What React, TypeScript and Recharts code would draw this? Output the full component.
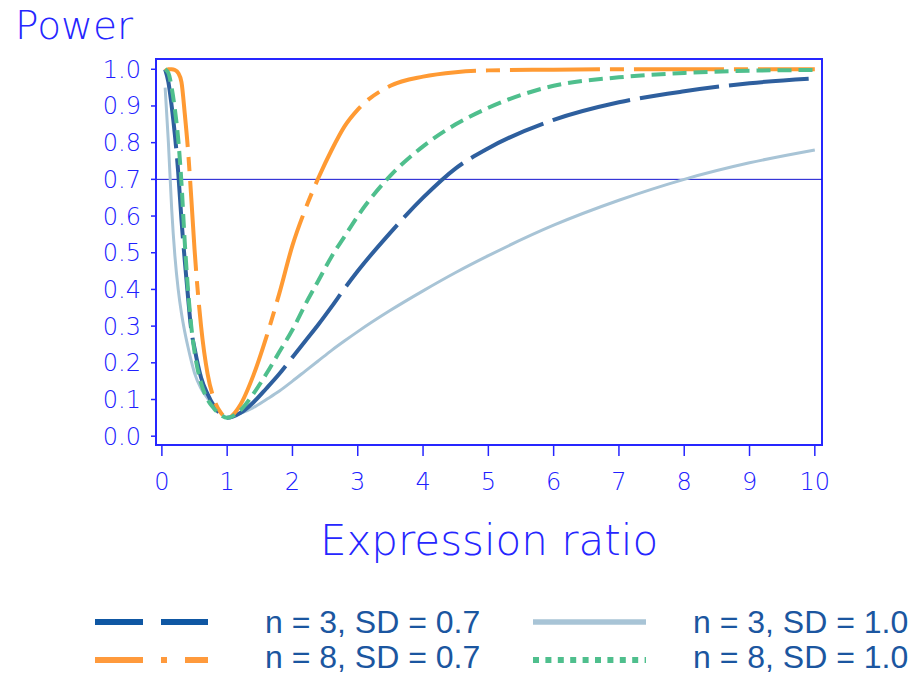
import React from 'react';
import { LineChart, Line, XAxis, YAxis, ReferenceLine, ReferenceArea } from 'recharts';

// expression ratio sample points
const ratios = [0.05, 0.1, 0.15, 0.2, 0.25, 0.3, 0.35, 0.4, 0.45, 0.5, 0.6, 0.7, 0.8, 0.9, 1, 1.2, 1.4, 1.6, 1.8, 2, 2.2, 2.4, 2.6, 2.8, 3, 3.5, 4, 4.5, 5, 6, 7, 8, 9, 10];

const n3sd07 = [1.0, 0.965, 0.9, 0.82, 0.72, 0.59, 0.48, 0.38, 0.29, 0.24, 0.16, 0.115, 0.082, 0.06, 0.05, 0.063, 0.092, 0.13, 0.17, 0.215, 0.26, 0.305, 0.353, 0.403, 0.45, 0.555, 0.65, 0.73, 0.785, 0.862, 0.91, 0.94, 0.962, 0.975];
const n8sd07 = [0.995, 1.0, 1.0, 0.998, 0.99, 0.965, 0.88, 0.78, 0.65, 0.51, 0.3, 0.17, 0.1, 0.065, 0.05, 0.085, 0.165, 0.27, 0.39, 0.52, 0.62, 0.705, 0.78, 0.845, 0.89, 0.955, 0.98, 0.992, 0.997, 0.999, 1.0, 1.0, 1.0, 1.0];
const n3sd10 = [0.95, 0.8, 0.62, 0.49, 0.4, 0.335, 0.285, 0.243, 0.205, 0.172, 0.13, 0.103, 0.082, 0.063, 0.05, 0.062, 0.078, 0.1, 0.123, 0.15, 0.178, 0.206, 0.234, 0.26, 0.285, 0.343, 0.396, 0.446, 0.492, 0.575, 0.643, 0.7, 0.745, 0.78];
const n8sd10 = [1.0, 0.99, 0.95, 0.89, 0.81, 0.69, 0.53, 0.4, 0.3, 0.23, 0.145, 0.1, 0.075, 0.058, 0.05, 0.07, 0.115, 0.17, 0.23, 0.29, 0.36, 0.425, 0.49, 0.545, 0.6, 0.71, 0.79, 0.85, 0.895, 0.955, 0.978, 0.99, 0.996, 0.998];

const xTicks = [0, 1, 2, 3, 4, 5, 6, 7, 8, 9, 10];
const yTicks = [0, 0.1, 0.2, 0.3, 0.4, 0.5, 0.6, 0.7, 0.8, 0.9, 1.0];

const data = ratios.map((x, i) => ({
  x,
  n3sd07: n3sd07[i],
  n8sd07: n8sd07[i],
  n3sd10: n3sd10[i],
  n8sd10: n8sd10[i],
}));

const AXIS = '#2626ff';
const TICK_TEXT = '#2020ff';
const LEGEND_TEXT = '#1b56a0';
const tickFont = { fontFamily: 'DejaVu Sans', fontWeight: 200, fontSize: 24, fill: TICK_TEXT };

const legendItems = [
  { label: 'n = 3, SD = 0.7', color: '#0f57a3', dash: '48 18', width: 6, lx: 95, tx: 265, y: 622, base: 633 },
  { label: 'n = 3, SD = 1.0', color: '#a8c4d6', dash: undefined, width: 5.5, lx: 533, tx: 693, y: 622, base: 633 },
  { label: 'n = 8, SD = 0.7', color: '#ff9a3c', dash: '48 18 6 18', width: 6, lx: 95, tx: 265, y: 660, base: 668 },
  { label: 'n = 8, SD = 1.0', color: '#4fbf8d', dash: '6 6.4', width: 6, lx: 533, tx: 693, y: 660, base: 668 },
];

export default function App() {
  return (
    <div style={{ position: 'absolute', left: 0, top: 0, width: 913, height: 676, background: '#fff' }}>
      <LineChart width={913} height={676} data={data} margin={{ top: 59, right: 91, bottom: 171, left: 81 }}>
        <XAxis
          dataKey="x"
          type="number"
          domain={[-0.09, 10.11]}
          ticks={xTicks}
          allowDataOverflow
          height={60}
          stroke={AXIS}
          axisLine={{ stroke: AXIS, strokeWidth: 2 }}
          tickLine={{ stroke: AXIS, strokeWidth: 1.5 }}
          tickSize={11}
          tickMargin={17}
          tick={tickFont}
        />
        <YAxis
          type="number"
          domain={[-0.024, 1.028]}
          ticks={yTicks}
          allowDataOverflow
          width={75}
          stroke={AXIS}
          axisLine={{ stroke: AXIS, strokeWidth: 2 }}
          tickLine={{ stroke: AXIS, strokeWidth: 1.5 }}
          tickSize={5}
          tickMargin={10}
          tick={tickFont}
          tickFormatter={(v: number) => v.toFixed(1)}
        />
        <ReferenceArea x1={-0.09} x2={10.11} y1={-0.024} y2={1.028} fill="none" fillOpacity={0} stroke={AXIS} strokeWidth={2} ifOverflow="visible" />
        <ReferenceLine y={0.7} stroke="#1414d0" strokeWidth={1} />
        <Line type="monotone" dataKey="n3sd10" stroke="#a8c4d6" strokeWidth={3} dot={false} isAnimationActive={false} />
        <Line type="monotone" dataKey="n3sd07" stroke="#2e5f9e" strokeWidth={4} strokeDasharray="80 10" dot={false} isAnimationActive={false} />
        <Line type="monotone" dataKey="n8sd07" stroke="#ff9a33" strokeWidth={4} strokeDasharray="90 10 14 10" dot={false} isAnimationActive={false} />
        <Line type="monotone" dataKey="n8sd10" stroke="#4fbf8d" strokeWidth={4} strokeDasharray="14 7" dot={false} isAnimationActive={false} />
      </LineChart>
      <svg width={913} height={676} style={{ position: 'absolute', left: 0, top: 0, pointerEvents: 'none' }}>
        <text x={15} y={39} fontFamily="DejaVu Sans" fontWeight={200} fontSize={39} fill={AXIS}>
          Power
        </text>
        <text x={489} y={555} textAnchor="middle" fontFamily="DejaVu Sans" fontWeight={200} fontSize={42} fill={AXIS}>
          Expression ratio
        </text>
        {legendItems.map((it) => (
          <g key={it.label}>
            <line x1={it.lx} x2={it.lx + 113} y1={it.y} y2={it.y} stroke={it.color} strokeWidth={it.width} strokeDasharray={it.dash} />
            <text x={it.tx} y={it.base} fontFamily="Liberation Sans" fontSize={32} fill={LEGEND_TEXT}>
              {it.label}
            </text>
          </g>
        ))}
      </svg>
    </div>
  );
}
